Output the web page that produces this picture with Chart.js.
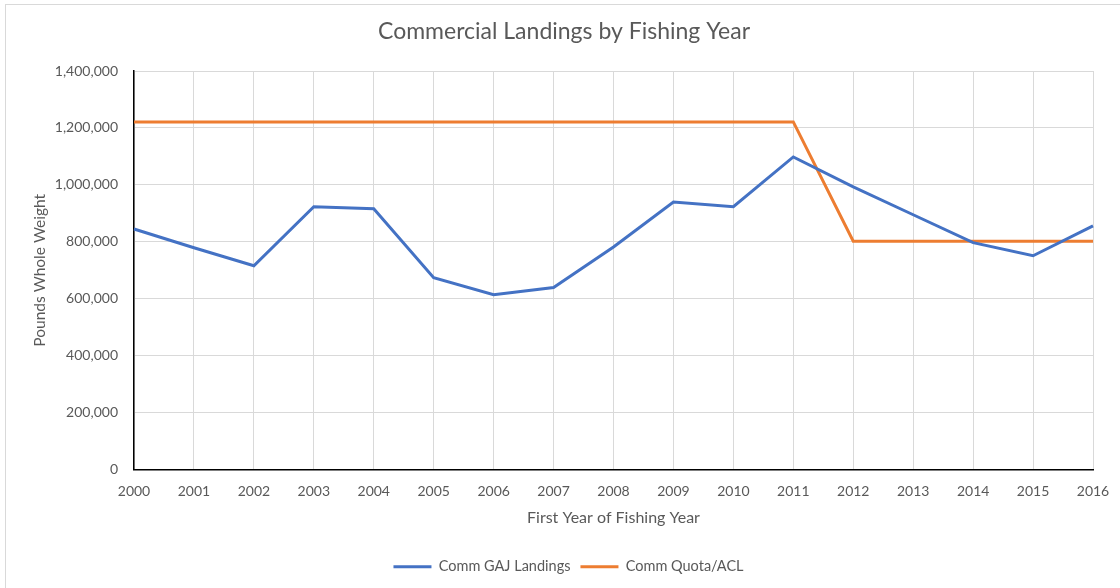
<!DOCTYPE html>
<html>
<head>
<meta charset="utf-8">
<script src="https://cdn.jsdelivr.net/npm/chart.js@4.4.1/dist/chart.umd.min.js"></script>
<style>
html,body{margin:0;padding:0;background:#fff;}
#wrap{position:relative;width:1120px;height:588px;}
</style>
</head>
<body>
<div id="wrap"><canvas id="c" width="1120" height="588"></canvas></div>
<script>
const years = ['2000','2001','2002','2003','2004','2005','2006','2007','2008','2009','2010','2011','2012','2013','2014','2015','2016'];
const landings = [845000, 779000, 716000, 923000, 916000, 674000, 614000, 639000, 782000, 940000, 923000, 1098000, 993000, 895000, 797000, 751000, 856000];
const quota = [1221000, 1221000, 1221000, 1221000, 1221000, 1221000, 1221000, 1221000, 1221000, 1221000, 1221000, 1221000, 802000, 802000, 802000, 802000, 802000];
const yTicks = [0, 200000, 400000, 600000, 800000, 1000000, 1200000, 1400000];

const FONT = 'Lato, "Open Sans", sans-serif';
const GREY = '#595959';

const borderPlugin = {
  id: 'outerBorder',
  beforeDraw(chart) {
    const ctx = chart.ctx;
    ctx.save();
    ctx.fillStyle = '#fff';
    ctx.fillRect(0, 0, chart.width, chart.height);
    ctx.strokeStyle = '#d9d9d9';
    ctx.lineWidth = 1;
    ctx.strokeRect(5.5, 4.5, chart.width + 10, chart.height + 10);
    ctx.restore();
  },
  afterLayout(chart) {
    // Excel centres title and legend slightly right of the canvas centre
    if (chart.titleBlock) { chart.titleBlock.left += 30; }
    if (chart.legend) { chart.legend.left += 39; }
  }
};

new Chart(document.getElementById('c'), {
  type: 'line',
  data: {
    labels: years,
    datasets: [
      { label: 'Comm GAJ Landings', data: landings, borderColor: '#4472C4', backgroundColor: '#4472C4', borderWidth: 3, pointRadius: 0, tension: 0, fill: false },
      { label: 'Comm Quota/ACL', data: quota, borderColor: '#ED7D31', backgroundColor: '#ED7D31', borderWidth: 3, pointRadius: 0, tension: 0, fill: false }
    ]
  },
  plugins: [borderPlugin],
  options: {
    responsive: false,
    animation: false,
    devicePixelRatio: 1,
    layout: { padding: { left: 5, right: 27, top: 10, bottom: 4 } },
    plugins: {
      title: {
        display: true,
        text: 'Commercial Landings by Fishing Year',
        color: GREY,
        font: { family: FONT, size: 23, weight: 'normal' },
        padding: { top: 8.2, bottom: 25.2 }
      },
      legend: {
        position: 'bottom',
        labels: {
          color: GREY,
          font: { family: FONT, size: 14.5 },
          usePointStyle: true,
          pointStyle: 'line',
          pointStyleWidth: 38,
          boxHeight: 12,
          padding: 10
        }
      },
      tooltip: { enabled: false }
    },
    scales: {
      x: {
        type: 'category',
        offset: false,
        grid: { color: '#d9d9d9', lineWidth: 1, drawTicks: false },
        border: { color: '#000', width: 1.5 },
        ticks: { color: GREY, font: { family: FONT, size: 14 }, padding: 13.5, maxRotation: 0, autoSkip: false },
        title: { display: true, text: 'First Year of Fishing Year', color: GREY, font: { family: FONT, size: 16 }, padding: { top: 4, bottom: 22 } },
        afterFit(s) { s.height = 80; s.paddingLeft = 0; s.paddingRight = 0; }
      },
      y: {
        min: 0,
        max: 1400000,
        afterBuildTicks(s) { s.ticks = yTicks.map(v => ({ value: v })); },
        grid: { color: '#d9d9d9', lineWidth: 1, drawTicks: false },
        border: { color: '#000', width: 1.5 },
        ticks: {
          color: GREY,
          font: { family: FONT, size: 14 },
          padding: 16,
          callback: v => v.toLocaleString('en-US')
        },
        title: { display: true, text: 'Pounds Whole Weight', color: GREY, font: { family: FONT, size: 15.5 }, padding: { top: 25.7, bottom: 4 } },
        afterFit(s) { s.width = 129; }
      }
    }
  }
});
</script>
</body>
</html>
